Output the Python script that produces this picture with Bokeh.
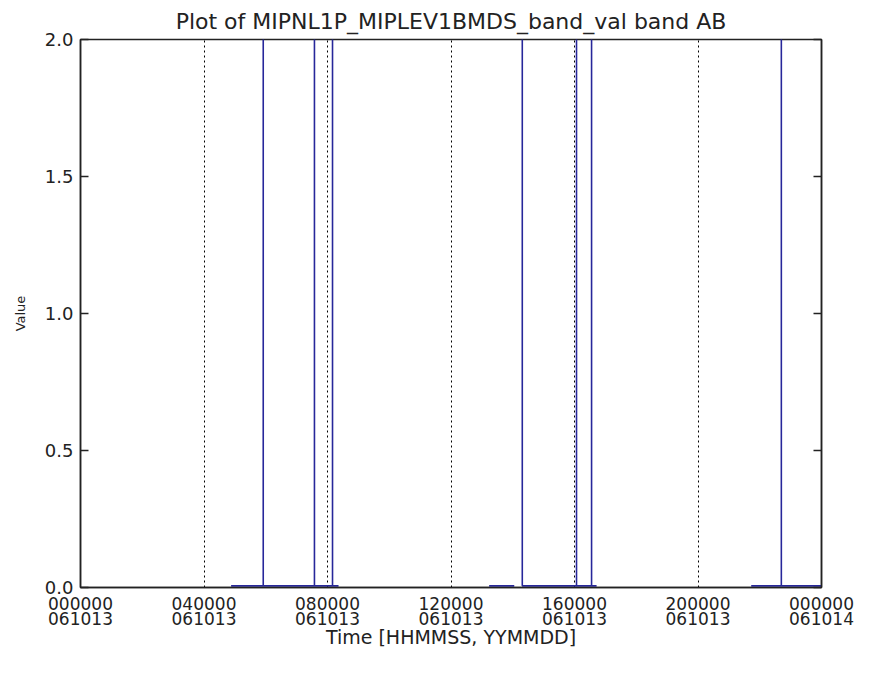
import numpy as np
from bokeh.plotting import figure
from bokeh.models import Range1d, FixedTicker, LinearAxis
from bokeh.embed import file_html
from bokeh.resources import INLINE

# ---- data (seconds since 061013 00:00:00) ----
nan = float("nan")
time_s = [17561, 21307, 21307, 21307, 27278, 27278, 27278, 29385, 29385, 29385, 30088, nan,
          47649, 50576, nan,
          51512, 51512, 51512, 57834, 57834, 57834, 59590, 59590, 59590, 60175, nan,
          78205, 81717, 81717, 81717, 86400]
values = [0.006, 0.006, 10.0, 0.006, 0.006, 10.0, 0.006, 0.006, 10.0, 0.006, 0.006, nan,
          0.006, 0.006, nan,
          0.006, 10.0, 0.006, 0.006, 10.0, 0.006, 0.006, 10.0, 0.006, 0.006, nan,
          0.006, 0.006, 10.0, 0.006, 0.006]

x_ticks = [0, 14400, 28800, 43200, 57600, 72000, 86400]
x_tick_labels = ["000000\n061013", "040000\n061013", "080000\n061013", "120000\n061013",
                 "160000\n061013", "200000\n061013", "000000\n061014"]
grid_ticks = [14400, 28800, 43200, 57600, 72000]
y_ticks = [0.0, 0.5, 1.0, 1.5, 2.0]
y_tick_labels = ["0.0", "0.5", "1.0", "1.5", "2.0"]
title_text = "Plot of MIPNL1P_MIPLEV1BMDS_band_val band AB"

FONT = "DejaVu Sans"
INK = "#222222"

p = figure(frame_width=741, frame_height=548, output_backend="svg", toolbar_location=None,
           x_range=Range1d(0, 86400), y_range=Range1d(0, 2), title=title_text)
p.min_border_left = 80
p.min_border_right = 36
p.min_border_top = 30
p.min_border_bottom = 72
p.background_fill_color = "white"
p.border_fill_color = "white"
p.outline_line_color = INK
p.outline_line_width = 1.5

p.title.align = "center"
p.title.text_font = FONT
p.title.text_font_size = "22px"
p.title.text_font_style = "normal"
p.title.text_color = INK
p.title.offset = 0
p.title.standoff = 12

p.line(time_s, values, line_color="#27279a", line_width=1.6)

# x axis
xa = p.xaxis[0]
xa.ticker = FixedTicker(ticks=x_ticks)
xa.major_label_overrides = {t: l for t, l in zip(x_ticks, x_tick_labels)}
xa.major_tick_in = 0
xa.major_tick_out = 0
xa.minor_tick_line_color = None
xa.axis_line_color = INK
xa.axis_line_width = 1.5
xa.major_label_text_font = FONT
xa.major_label_text_font_size = "17px"
xa.major_label_text_color = INK
xa.major_label_standoff = 6
xa.major_label_text_line_height = 0.75
xa.axis_label = "Time [HHMMSS, YYMMDD]"
xa.axis_label_text_font = FONT
xa.axis_label_text_font_size = "19px"
xa.axis_label_text_font_style = "normal"
xa.axis_label_text_color = INK
xa.axis_label_standoff = -6

# y axis
ya = p.yaxis[0]
ya.ticker = FixedTicker(ticks=y_ticks)
ya.major_label_overrides = {t: l for t, l in zip(y_ticks, y_tick_labels)}
ya.major_tick_in = 8
ya.major_tick_out = 0
ya.major_tick_line_color = INK
ya.major_tick_line_width = 1.5
ya.minor_tick_line_color = None
ya.axis_line_color = INK
ya.axis_line_width = 1.5
ya.major_label_text_font = FONT
ya.major_label_text_font_size = "18px"
ya.major_label_text_color = INK
ya.major_label_standoff = 7
ya.axis_label = "Value"
ya.axis_label_text_font = FONT
ya.axis_label_text_font_size = "13px"
ya.axis_label_text_font_style = "normal"
ya.axis_label_text_color = INK
ya.axis_label_standoff = 14

ra = LinearAxis(ticker=FixedTicker(ticks=y_ticks))
ra.major_label_text_font_size = "0px"
ra.major_label_text_color = None
ra.major_tick_in = 8
ra.major_tick_out = 0
ra.major_tick_line_color = INK
ra.major_tick_line_width = 1.5
ra.minor_tick_line_color = None
ra.axis_line_color = INK
ra.axis_line_width = 1.5
p.add_layout(ra, "right")

p.ygrid.grid_line_color = None
p.xgrid.ticker = FixedTicker(ticks=grid_ticks)
p.xgrid.grid_line_color = "black"
p.xgrid.grid_line_dash = "2 3"
p.xgrid.grid_line_width = 1

with open("out.html", "w") as f:
    f.write(file_html(p, INLINE))
